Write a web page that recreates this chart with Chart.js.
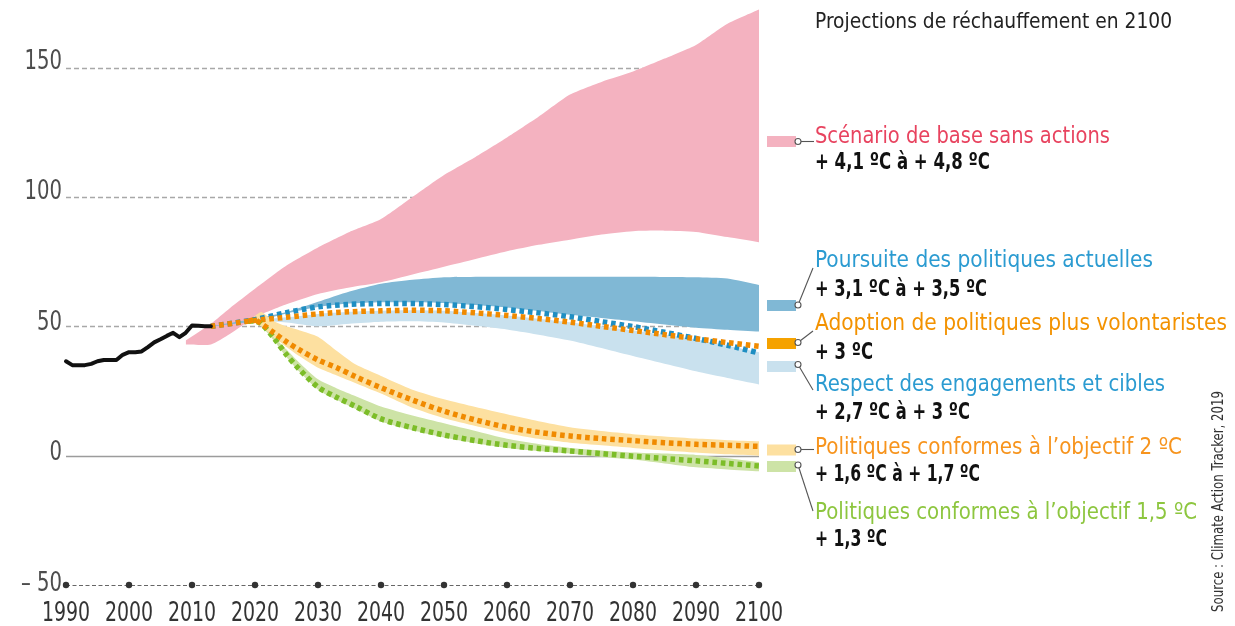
<!DOCTYPE html>
<html>
<head>
<meta charset="utf-8">
<script src="https://cdn.jsdelivr.net/npm/chart.js@4"></script>
<style>
  html, body { margin: 0; padding: 0; background: #fff; }
  #wrap { width: 1235px; height: 626px; position: relative; }
</style>
</head>
<body>
<div id="wrap"><canvas id="myChart"></canvas></div>
<script>
// tick labels
const xTicks = [1990, 2000, 2010, 2020, 2030, 2040, 2050, 2060, 2070, 2080, 2090, 2100];
const yTicks = [-50, 0, 50, 100, 150];

// historical emissions (black line)
const histYears = [1990, 1991, 1992, 1993, 1994, 1995, 1996, 1997, 1998, 1999, 2000, 2001, 2002, 2003, 2004, 2005, 2006, 2007, 2008, 2009, 2010, 2011, 2012, 2013];
const histValues = [36.5, 35, 35, 35, 35.5, 36.5, 37, 37, 37, 39, 40, 40, 40.3, 42, 43.8, 45, 46.3, 47.5, 45.8, 47.5, 50.3, 50.2, 50, 50];

// baseline, no action (pink band)
const pinkYears = [2009, 2013, 2016, 2020, 2025, 2030, 2035, 2040, 2045, 2050, 2055, 2060, 2065, 2070, 2075, 2080, 2085, 2090, 2095, 2100];
const pinkLow = [43, 43, 47, 53.5, 58.5, 62.5, 65, 67, 70, 73, 76, 79, 81.5, 83.5, 85.5, 86.8, 87, 86.5, 84.5, 82.5];
const pinkHigh = [44.5, 51, 57, 64.5, 73.5, 80.5, 86.5, 91.5, 100, 108.5, 115.5, 123, 131, 139.6, 144.5, 148.5, 153.5, 158.8, 167, 172.5];

// current policies (dark blue) and pledges (light blue)
const blueYears = [2013, 2020, 2025, 2030, 2035, 2040, 2045, 2050, 2060, 2070, 2080, 2090, 2095, 2100];
const currentLow = [50, 52, 55, 57.5, 58.8, 59.3, 59.3, 59, 57.3, 54.5, 52, 49.5, 48.7, 48];
const currentHigh = [50, 53, 55.5, 59.5, 63.5, 66.5, 68, 69, 69.2, 69.2, 69.2, 69, 68.5, 66];
const pledgeLow = [50, 52, 51.5, 50, 51, 51.8, 52, 51.5, 48.8, 44.5, 38.5, 32.6, 30, 27.5];
const pledgeHigh = [50, 52.3, 53.5, 54.8, 55.6, 56, 56.2, 56, 54.2, 51.6, 48.4, 45, 42.5, 40];

// dotted lines: current policies and stronger policies
const dotYears = [2013, 2020, 2025, 2030, 2035, 2040, 2045, 2050, 2055, 2060, 2065, 2070, 2075, 2080, 2085, 2090, 2095, 2100];
const currentLine = [50, 52.6, 55.3, 57.5, 58.5, 58.8, 58.8, 58.4, 57.6, 56.5, 55.2, 53.7, 51.8, 49.9, 47.7, 45.3, 42.7, 39.7];
const strongLine = [50, 52.3, 53.5, 54.8, 55.6, 56, 56.2, 56, 55.2, 54.2, 53, 51.6, 50, 48.4, 46.8, 45.2, 43.7, 42.3];

// 2 °C and 1.5 °C pathways
const pathYears = [2019, 2020, 2021, 2023, 2025, 2027, 2030, 2033, 2036, 2040, 2045, 2050, 2055, 2060, 2065, 2070, 2075, 2080, 2085, 2090, 2095, 2100];
const twoLine = [52, 52.5, 51, 47.5, 44, 41, 37, 34, 30.5, 26.3, 21.5, 17.2, 13.8, 11, 9, 7.6, 6.6, 5.8, 5, 4.4, 4, 3.6];
const twoHigh = [52, 54, 55.5, 52, 50, 48.5, 46, 40.5, 35.2, 30.8, 25.5, 21.8, 18.8, 16, 13.3, 11, 9.5, 8.3, 7.4, 6.6, 6, 5.6];
const twoLow = [52, 52, 50, 46, 42, 38.5, 34, 31, 28, 24, 18.5, 14.5, 11.5, 8.7, 6.5, 5, 4, 3, 2, 1.2, 0.5, 0];
const oneFiveLine = [52, 52, 51, 45.5, 39, 33.5, 26.5, 22.5, 19, 14.2, 10.8, 8, 5.8, 4, 2.8, 1.8, 0.8, -0.2, -1.1, -2, -3, -4];
const oneFiveHigh = [52, 52, 50.5, 46, 41, 36, 29.5, 26, 23, 19, 15.5, 12.5, 9.5, 6.5, 4.5, 3, 2, 1.2, 0.8, 0.3, -1, -2.5];
const oneFiveLow = [52, 51.5, 50, 44.5, 38, 32.5, 25.5, 21.5, 18, 13.2, 9.8, 7, 4.8, 3, 1.8, 0.8, -0.5, -1.5, -3, -4.5, -5.3, -6];

const FONT = "'Liberation Sans Narrow', 'DejaVu Sans Condensed', Roboto, sans-serif";

function pts(xs, ys) {
    return xs.map((x, i) => ({ x: x, y: ys[i] }));
}

// a band = invisible lower edge + upper edge filled down to it
function band(xs, lo, hi, color, order) {
    return [
        { data: pts(xs, lo), borderWidth: 0, borderColor: 'transparent', pointRadius: 0, fill: false, order: order, tension: 0.2 },
        { data: pts(xs, hi), borderWidth: 0, borderColor: 'transparent', pointRadius: 0, fill: '-1', backgroundColor: color, order: order, tension: 0.2 }
    ];
}

function dotted(xs, ys, color, order) {
    return { data: pts(xs, ys), borderColor: color, borderWidth: 5.5, borderDash: [4.6, 3.8], borderCapStyle: 'butt',
             pointRadius: 0, fill: false, order: order, tension: 0.3, clip: false };
}

// stretch/squeeze text to the width measured on the picture
function drawFit(ctx, text, x, y, w, font, color) {
    ctx.font = font;
    let m = ctx.measureText(text).width;
    drawScaled(ctx, text, x, y, w / m, 'left', font, color);
}

// narrow text by a fixed factor (the original uses a condensed face)
function drawScaled(ctx, text, x, y, k, align, font, color) {
    ctx.save();
    ctx.font = font;
    ctx.translate(x, y);
    ctx.scale(k, 1);
    ctx.fillStyle = color;
    ctx.textBaseline = 'alphabetic';
    ctx.textAlign = align;
    ctx.fillText(text, 0, 0);
    ctx.restore();
}

// grid lines drawn by hand: dashed, solid zero line, dotted bottom axis
const gridPlugin = {
    id: 'gridLines',
    beforeDatasetsDraw(chart) {
        const { ctx, chartArea: a, scales: { x, y } } = chart;
        ctx.save();
        yTicks.forEach(v => {
            let py = Math.round(y.getPixelForValue(v)) + 0.5;
            ctx.beginPath();
            if (v === 0) {
                ctx.setLineDash([]);
                ctx.strokeStyle = '#9c9c9c';
                ctx.lineWidth = 1.6;
            } else if (v === yTicks[0]) {
                ctx.setLineDash([4, 2.5]);
                ctx.strokeStyle = '#666';
                ctx.lineWidth = 1;
            } else {
                ctx.setLineDash([5, 3]);
                ctx.strokeStyle = '#a8a8a8';
                ctx.lineWidth = 1.3;
            }
            ctx.moveTo(a.left, py);
            ctx.lineTo(a.right, py);
            ctx.stroke();
        });
        ctx.restore();
    },
    afterDatasetsDraw(chart) {
        const { ctx, scales: { x, y } } = chart;
        ctx.save();
        ctx.fillStyle = '#333';
        let py = y.getPixelForValue(yTicks[0]);
        xTicks.forEach(t => {
            ctx.beginPath();
            ctx.arc(x.getPixelForValue(t), py, 3.2, 0, Math.PI * 2);
            ctx.fill();
        });
        ctx.restore();
    }
};

// tick labels, placed with the scales but narrowed like the original face
const tickPlugin = {
    id: 'tickLabels',
    afterDraw(chart) {
        const { ctx, scales: { x, y } } = chart;
        yTicks.forEach(v => {
            let label = v < 0 ? '– ' + Math.abs(v) : String(v);
            let py = y.getPixelForValue(v) + 1 + (150 - v) / 40;
            drawScaled(ctx, label, 62, py, 0.84, 'right', '26px ' + FONT, '#4d4d4d');
        });
        xTicks.forEach(t => {
            drawScaled(ctx, String(t), x.getPixelForValue(t), 621, 0.81, 'center', '26px ' + FONT, '#333');
        });
    }
};

// right hand legend: swatch, little circle, connector, texts
const legendItems = [
    { color: '#f4b2c0', box: [767, 136], ring: [798, 141.5], to: [814, 141.5] },
    { color: '#80b8d5', box: [767, 300], ring: [798, 305], to: [813, 268] },
    { color: '#f5a200', box: [767, 338], ring: [798, 342.5], to: [813, 331] },
    { color: '#c9e1ee', box: [767, 361], ring: [798, 364.5], to: [813, 390] },
    { color: '#fde0a0', box: [767, 444.5], ring: [798, 449.5], to: [814, 449.5] },
    { color: '#cde3a6', box: [767, 461], ring: [798, 465], to: [813, 511] }
];
const legendTexts = [
    { t: 'Projections de réchauffement en 2100', y: 28, w: 357, c: '#222', f: '22px' },
    { t: 'Scénario de base sans actions', y: 143, w: 295, c: '#e8435f', f: '23px' },
    { t: '+ 4,1 ºC à + 4,8 ºC', y: 169, w: 175, c: '#111', f: 'bold 23px' },
    { t: 'Poursuite des politiques actuelles', y: 267, w: 338, c: '#2b9bd1', f: '23px' },
    { t: '+ 3,1 ºC à + 3,5 ºC', y: 296, w: 172, c: '#111', f: 'bold 23px' },
    { t: 'Adoption de politiques plus volontaristes', y: 330, w: 412, c: '#f39200', f: '23px' },
    { t: '+ 3 ºC', y: 359, w: 58, c: '#111', f: 'bold 23px' },
    { t: 'Respect des engagements et cibles', y: 391, w: 350, c: '#2b9bd1', f: '23px' },
    { t: '+ 2,7 ºC à + 3 ºC', y: 419, w: 155, c: '#111', f: 'bold 23px' },
    { t: 'Politiques conformes à l’objectif 2 ºC', y: 454, w: 367, c: '#f7941d', f: '23px' },
    { t: '+ 1,6 ºC à + 1,7 ºC', y: 481, w: 165, c: '#111', f: 'bold 23px' },
    { t: 'Politiques conformes à l’objectif 1,5 ºC', y: 519, w: 382, c: '#8dc63f', f: '23px' },
    { t: '+ 1,3 ºC', y: 546, w: 72, c: '#111', f: 'bold 23px' }
];

const legendPlugin = {
    id: 'sideLegend',
    afterDraw(chart) {
        const ctx = chart.ctx;
        ctx.save();
        legendItems.forEach(it => {
            ctx.fillStyle = it.color;
            ctx.fillRect(it.box[0], it.box[1], 29, 11);
            ctx.strokeStyle = '#555';
            ctx.lineWidth = 1.1;
            ctx.beginPath();
            ctx.moveTo(it.ring[0], it.ring[1]);
            ctx.lineTo(it.to[0], it.to[1]);
            ctx.stroke();
            ctx.beginPath();
            ctx.arc(it.ring[0], it.ring[1], 3, 0, Math.PI * 2);
            ctx.fillStyle = '#fff';
            ctx.fill();
            ctx.stroke();
        });
        legendTexts.forEach(l => {
            drawFit(ctx, l.t, 815, l.y, l.w, l.f + ' ' + FONT, l.c);
        });
        // source, rotated
        ctx.save();
        ctx.translate(1223, 612);
        ctx.rotate(-Math.PI / 2);
        drawFit(ctx, 'Source : Climate Action Tracker, 2019', 0, 0, 221, '15px ' + FONT, '#333');
        ctx.restore();
        ctx.restore();
    }
};

Chart.defaults.font.family = FONT;

var ctx = document.getElementById('myChart').getContext('2d');

var myChart = new Chart(ctx, {
    type: 'line',
    data: {
        datasets: [
            ...band(pinkYears, pinkLow, pinkHigh, '#f4b2c0', 10),
            ...band(blueYears, pledgeLow, pledgeHigh, '#c9e1ee', 9),
            ...band(blueYears, currentLow, currentHigh, '#80b8d5', 8),
            ...band(pathYears, oneFiveLow, oneFiveHigh, '#cde3a6', 7),
            ...band(pathYears, twoLow, twoHigh, '#fde0a0', 6),
            dotted(dotYears, currentLine, '#1f8ec2', 5),
            dotted(dotYears, strongLine, '#f08a00', 4),
            dotted(pathYears, oneFiveLine, '#7cbd28', 3),
            dotted(pathYears, twoLine, '#f08a00', 2),
            { data: pts(histYears, histValues), borderColor: '#111', borderWidth: 4, borderJoinStyle: 'round',
              borderCapStyle: 'round', pointRadius: 0, fill: false, order: 1, tension: 0, clip: false }
        ]
    },
    options: {
        responsive: true,
        maintainAspectRatio: false,
        animation: false,
        layout: { padding: { top: 3, right: 476, left: 0, bottom: 0 } },
        plugins: {
            legend: { display: false },
            tooltip: { enabled: false }
        },
        scales: {
            x: {
                type: 'linear',
                min: 1990,
                max: 2100,
                afterBuildTicks: s => { s.ticks = xTicks.map(v => ({ value: v })); },
                afterFit: s => { s.height = 41; s.paddingLeft = 0; s.paddingRight = 0; },
                grid: { display: false, drawTicks: false },
                border: { display: false },
                ticks: { display: false }
            },
            y: {
                min: -50,
                max: 175,
                afterBuildTicks: s => { s.ticks = yTicks.map(v => ({ value: v })); },
                afterFit: s => { s.width = 66; s.paddingTop = 0; s.paddingBottom = 0; },
                grid: { display: false, drawTicks: false },
                border: { display: false },
                ticks: { display: false }
            }
        }
    },
    plugins: [gridPlugin, tickPlugin, legendPlugin]
});
</script>
</body>
</html>
